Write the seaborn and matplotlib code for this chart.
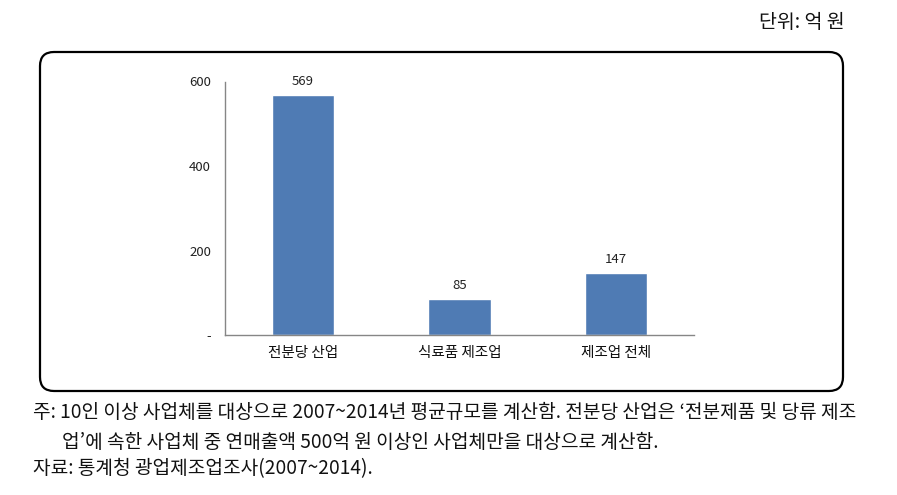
import matplotlib
matplotlib.use("Agg")
import matplotlib.pyplot as plt
import matplotlib.transforms as mtransforms
from matplotlib.patches import FancyBboxPatch
import seaborn as sns
import pandas as pd

categories = ["전분당 산업", "식료품 제조업", "제조업 전체"]
values = [569, 85, 147]
ytick_values = [0, 200, 400, 600]
ytick_labels = ["-", "200", "400", "600"]
unit_text = "단위: 억 원"
note_lines = [
    "주: 10인 이상 사업체를 대상으로 2007~2014년 평균규모를 계산함. 전분당 산업은 ‘전분제품 및 당류 제조",
    "업’에 속한 사업체 중 연매출액 500억 원 이상인 사업체만을 대상으로 계산함.",
    "자료: 통계청 광업제조업조사(2007~2014).",
]

sns.set_style("white")
plt.rcParams["font.family"] = ["Noto Sans CJK KR", "DejaVu Sans"]

W, H = 897, 495
fig = plt.figure(figsize=(W / 100, H / 100), dpi=100)

# rounded frame in pixel coordinates
box = FancyBboxPatch((40, H - 391), 803, 339,
                     boxstyle="round,pad=0,rounding_size=14",
                     transform=mtransforms.IdentityTransform(),
                     facecolor="none", edgecolor="black", linewidth=1.6,
                     zorder=-1)
fig.patches.append(box)

ax = fig.add_axes([225 / W, 1 - 335 / H, (694 - 225) / W, (335 - 81.5) / H])
ax.patch.set_alpha(0)
df = pd.DataFrame({"cat": categories, "val": values})
sns.barplot(data=df, x="cat", y="val", color="#4F7BB4", saturation=1,
            width=0.40, ax=ax)
for c in ax.containers:
    ax.bar_label(c, labels=[str(v) for v in values], padding=5,
                 fontsize=9.5, color="#222222")

ax.set_xlim(-0.5, 2.5)
ax.set_ylim(0, 600)
ax.set_xlabel("")
ax.set_ylabel("")

ax.set_yticks(ytick_values)
ax.set_yticklabels(ytick_labels, fontsize=9.5, color="#222222")
ax.set_xticks([-0.5, 0.5, 1.5, 2.5])
ax.set_xticklabels([])
ax.set_xticks([0, 1, 2], minor=True)
ax.set_xticklabels(categories, minor=True, fontsize=10.5, color="#111111")
ax.tick_params(axis="x", which="minor", length=0, pad=8)
ax.tick_params(axis="x", which="major", length=4, width=1, color="#868686", direction="out")
ax.tick_params(axis="y", length=4, width=1, color="#868686", direction="out", pad=6)

for s in ["top", "right"]:
    ax.spines[s].set_visible(False)
for s in ["left", "bottom"]:
    ax.spines[s].set_color("#868686")
    ax.spines[s].set_linewidth(1.0)

fig.text(845 / W, 1 - 22 / H, unit_text, ha="right", va="center",
         fontsize=14, color="#111111")

note_fs = 13.8
fig.text(33 / W, 1 - 413 / H, note_lines[0], ha="left", va="center",
         fontsize=note_fs, color="#111111")
fig.text(62 / W, 1 - 442 / H, note_lines[1], ha="left", va="center",
         fontsize=note_fs, color="#111111")
fig.text(33 / W, 1 - 469 / H, note_lines[2], ha="left", va="center",
         fontsize=note_fs, color="#111111")

fig.savefig("out.png", dpi=100)
